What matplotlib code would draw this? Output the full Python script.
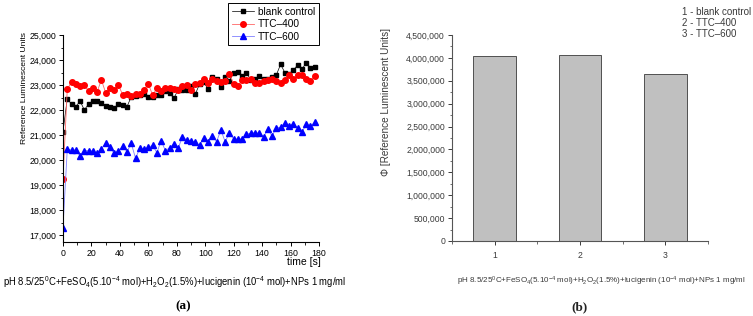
import numpy as np
import matplotlib
matplotlib.use("Agg")
import matplotlib.pyplot as plt
from matplotlib.ticker import MultipleLocator, FuncFormatter

plt.rcParams['font.family'] = ['Liberation Sans', 'DejaVu Sans']
plt.rcParams['mathtext.fontset'] = 'custom'
plt.rcParams['mathtext.rm'] = 'Liberation Sans'
plt.rcParams['mathtext.it'] = 'Liberation Sans:italic'
plt.rcParams['mathtext.bf'] = 'Liberation Sans:bold'

# ---------------- data ----------------
time_s = np.arange(0, 180, 3)

blank_control = [21133, 22453, 22227, 22133, 22360, 22000, 22240, 22360, 22360, 22280,
                 22160, 22107, 22067, 22227, 22200, 22133, 22533, 22573, 22600, 22627,
                 22533, 22507, 22600, 22600, 22773, 22667, 22467, 22827, 22800, 22800,
                 22960, 22627, 23040, 23120, 22827, 23333, 23253, 22907, 23307, 23173,
                 23493, 23520, 23360, 23493, 23200, 23227, 23360, 23240, 23227, 23307,
                 23400, 23827, 23493, 23440, 23600, 23800, 23627, 23893, 23693, 23733]

ttc_400 = [19240, 22840, 23107, 23027, 22960, 22987, 22760, 22880, 22733, 23200,
           22693, 22893, 22800, 23000, 22600, 22640, 22573, 22627, 22640, 22800,
           23040, 22600, 22867, 22773, 22893, 22867, 22827, 22800, 22960, 22987,
           22800, 23040, 23093, 23227, 23093, 23240, 23173, 23133, 23160, 23440,
           23040, 22960, 23200, 23200, 23253, 23067, 23067, 23173, 23200, 23227,
           23173, 23067, 23200, 23400, 23240, 23400, 23400, 23240, 23173, 23373]

ttc_600 = [17300, 20427, 20400, 20400, 20160, 20373, 20373, 20360, 20267, 20453,
           20667, 20507, 20267, 20360, 20560, 20333, 20667, 20067, 20467, 20427,
           20507, 20587, 20293, 20773, 20373, 20493, 20640, 20467, 20933, 20800,
           20760, 20707, 20600, 20893, 20707, 20960, 20733, 21200, 20733, 21067,
           20840, 20840, 20840, 21040, 21067, 21093, 21067, 20933, 21227, 20960,
           21293, 21307, 21467, 21373, 21440, 21293, 21107, 21427, 21360, 21507]

series_names = ['blank control', 'TTC\u2013400', 'TTC\u2013600']

bar_positions = [1, 2, 3]
bar_values = [4040000, 4070000, 3655000]
bar_legend = ['1 - blank control', '2 - TTC\u2013400', '3 - TTC\u2013600']

caption = (r'pH 8.5/25$^{0}$C+FeSO$_{4}$(5.10$^{-4}$ mol)+H$_{2}$O$_{2}$(1.5%)'
           r'+lucigenin (10$^{-4}$ mol)+NPs 1 mg/ml')

# ---------------- figure ----------------
W, H = 753, 316
fig = plt.figure(figsize=(W / 100, H / 100), dpi=100)

def fx(px):
    return px / W

def fy(py):
    return 1 - py / H

comma = FuncFormatter(lambda v, p: f'{int(round(v)):,}')

# ---- panel (a) ----
axa = fig.add_axes([fx(63), fy(242), fx(319) - fx(63), fy(35) - fy(242)])
axa.plot(time_s, blank_control, color='black', lw=0.5, marker='s', ms=3.5,
         mec='black', mfc='black', label=series_names[0])
axa.plot(time_s, ttc_400, color='#ff6666', lw=0.6, marker='o', ms=4.0,
         mec='red', mfc='red', label=series_names[1])
axa.plot(time_s, ttc_600, color='#8080ff', lw=0.6, marker='^', ms=4.0,
         mec='blue', mfc='blue', label=series_names[2])
axa.set_xlim(0, 180)
axa.set_ylim(16720, 25000)
axa.xaxis.set_major_locator(MultipleLocator(20))
axa.xaxis.set_minor_locator(MultipleLocator(10))
axa.yaxis.set_major_locator(MultipleLocator(1000))
axa.yaxis.set_minor_locator(MultipleLocator(500))
axa.yaxis.set_major_formatter(comma)
for s in ['top', 'right']:
    axa.spines[s].set_visible(False)
for s in ['left', 'bottom']:
    axa.spines[s].set_linewidth(0.8)
axa.tick_params(which='major', direction='out', length=3, width=0.7, labelsize=6.3, pad=2)
axa.tick_params(which='minor', direction='out', length=1.8, width=0.6)
fig.text(fx(25), fy(88.5), 'Reference Luminescent Units', rotation=90,
         ha='center', va='center', fontsize=6.1)
fig.text(fx(321), fy(262), 'time [s]', ha='right', va='center', fontsize=7.5)
leg = axa.legend(loc='upper right', bbox_to_anchor=(fx(319), fy(3)),
                 bbox_transform=fig.transFigure, borderaxespad=0, fontsize=7.3,
                 frameon=True, fancybox=False, edgecolor='black', framealpha=1,
                 handlelength=2.2, handletextpad=0.4, borderpad=0.35,
                 labelspacing=0.25)
leg.get_frame().set_linewidth(0.7)

fig.text(fx(3), fy(282), caption, ha='left', va='center', fontsize=6.85)
fig.text(fx(183), fy(306), '(a)', ha='center', va='center', fontsize=9.5,
         family='Liberation Serif', weight='bold')

# ---- panel (b) ----
gray = '#3a3a3a'
axb = fig.add_axes([fx(452), fy(241), fx(708) - fx(452), fy(35) - fy(241)])
axb.bar(bar_positions, bar_values, width=0.5, color='#c0c0c0',
        edgecolor='#505050', linewidth=0.7)
axb.set_xlim(0.5, 3.5)
axb.set_ylim(0, 4500000)
axb.set_xticks(bar_positions)
axb.xaxis.set_minor_locator(MultipleLocator(0.5))
axb.yaxis.set_major_locator(MultipleLocator(500000))
axb.yaxis.set_minor_locator(MultipleLocator(250000))
axb.yaxis.set_major_formatter(comma)
for s in ['top', 'right']:
    axb.spines[s].set_visible(False)
for s in ['left', 'bottom']:
    axb.spines[s].set_linewidth(0.8)
    axb.spines[s].set_color('#555555')
axb.tick_params(which='major', direction='out', length=3, width=0.7, labelsize=6.2,
                pad=2, colors=gray)
axb.tick_params(which='minor', direction='out', length=1.8, width=0.6, colors='#555555')
axb.tick_params(axis='x', pad=4)
fig.text(fx(386), fy(102), '\u03a6 [Reference Luminescent Units]', rotation=90,
         ha='center', va='center', fontsize=7.2, color=gray)
for i, t in enumerate(bar_legend):
    fig.text(fx(682), fy(12 + 11 * i), t, ha='left', va='center', fontsize=7.0, color=gray)

fig.text(fx(457), fy(281), caption, ha='left', va='center', fontsize=5.75, color=gray)
fig.text(fx(580), fy(307), '(b)', ha='center', va='center', fontsize=9.5,
         family='Liberation Serif', weight='bold', color='#222222')

fig.savefig('out.png', dpi=100)
